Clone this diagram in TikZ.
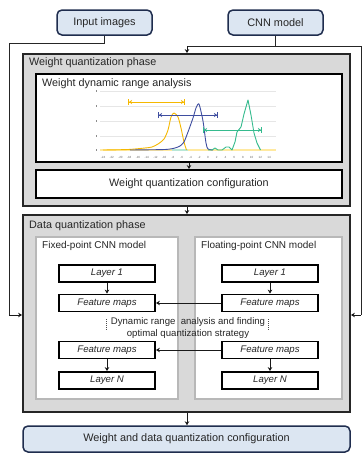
\documentclass[tikz,border=0pt]{standalone}
\usepackage{fontspec}
\setmainfont{Liberation Sans}
\usetikzlibrary{arrows.meta}
\definecolor{termfill}{HTML}{DCE6F2}
\definecolor{termdraw}{HTML}{1F2D4E}
\definecolor{phasefill}{HTML}{D9D9D9}
\definecolor{panelline}{HTML}{B8B8B8}
\definecolor{cyel}{HTML}{F5B800}
\definecolor{cyelbase}{HTML}{FFE9A0}
\definecolor{cblue}{HTML}{3F4EA0}
\definecolor{cgreen}{HTML}{35BB8E}
\definecolor{gridc}{HTML}{E6E6E6}
\definecolor{textc}{HTML}{262626}
\tikzset{
  termbox/.style={draw=termdraw, fill=termfill, line width=1.5pt, rounded corners=5pt,
    inner sep=0pt, text=textc, font=\fontsize{10.9}{12}\selectfont},
  phasebox/.style={draw=black!85, fill=phasefill, line width=1.8pt, inner sep=0pt},
  whitebox/.style={draw=black, fill=white, line width=1.8pt, inner sep=0pt,
    text=textc, font=\fontsize{10.8}{12}\selectfont},
  panelbox/.style={draw=panelline, fill=white, line width=1.7pt, inner sep=0pt},
  layerbox/.style={draw=black, fill=white, line width=1.8pt, inner sep=0pt,
    minimum width=96pt, minimum height=17pt, text=textc, font=\fontsize{9.6}{10}\selectfont\itshape},
  title/.style={anchor=west, inner sep=0pt, text=textc, font=\fontsize{10.8}{12}\selectfont},
  subtitle/.style={anchor=west, inner sep=0pt, text=textc, font=\fontsize{10}{11}\selectfont},
  conn/.style={draw=black!90, line width=1pt, -{Stealth[length=4pt,width=4.5pt]}},
  feed/.style={draw=black!85, line width=1pt},
  axlabel/.style={inner sep=0pt, text=black!60, font=\fontsize{3}{3}\selectfont},
  rangebar/.style={line width=1pt,
    {Bar[width=6pt]Stealth[length=3pt,width=4pt]}-{Stealth[length=3pt,width=4pt]Bar[width=6pt]}},
  curve/.style={line width=0.9pt, line join=round},
  dotmark/.style={draw=black!70, line width=1pt, dash pattern=on 1pt off 1pt},
}
\begin{document}
\begin{tikzpicture}[x=1pt,y=-1pt]
\useasboundingbox (0,0) rectangle (362,453);

% inputs
\node[termbox, minimum width=95pt, minimum height=25pt] (img) at (104.5,22.5) {Input images};
\node[termbox, minimum width=95pt, minimum height=25pt] (cnn) at (275.5,22.5) {CNN model};

% weight quantization phase
\node[phasebox, minimum width=327pt, minimum height=152pt] (wqp) at (186.5,130) {};
\node[title] (wqpt) at (29,63) {Weight quantization phase};
\node[whitebox, minimum width=306pt, minimum height=88pt] (wdra) at (189,118) {};
\node[title] (wdrat) at (42,84) {Weight dynamic range analysis};
\node[whitebox, minimum width=306pt, minimum height=28pt] (wqc) at (189,184) {Weight quantization configuration};

% chart: grid and baseline
\foreach \gy in {91,106,121,136}
  \draw[gridc, line width=0.6pt] (100,\gy) -- (276,\gy);
\foreach \gy in {91,106,121,136,150}
  \draw[black!45, line width=0.4pt] (96.5,\gy-1) -- (96.5,\gy+1);
\draw[cyelbase, line width=2.5pt] (100,150) -- (276,150);
\draw[cgreen!35, line width=2pt] (172,150) -- (188,150);
\foreach \v [count=\i from 0] in {-24,-22,-20,-18,-16,-14,-12,-10,-8,-6,-4,-2,0,2,4,6,8,10,12,14}
  \node[axlabel] (ax\i) at (103+\i*8.74,157) {\v};

% chart: distributions
\draw[cyel, curve] plot[smooth, tension=0.45] coordinates {(103,150) (128,149.5) (145,148) (152,147) (158,144) (164,139) (168,130) (171,117) (174,113) (178,117) (181,128) (184,142) (186.5,150)};
\draw[cblue, curve] plot[smooth, tension=0.4] coordinates {(130,150) (165,149.5) (175,148) (180,146) (184,142) (188,132) (193,118) (196,108) (199,104) (203,121) (206,143) (208,149) (213,150)};
\draw[cgreen, curve] (208,150) -- (212,150) -- (215,148) -- (218,150) -- (222,150) -- (226,147) -- (229,147) -- (232,150) -- (235,142) -- (237,132) -- (241,127) -- (244,114) -- (248,100) -- (251,115) -- (254,133) -- (257,143) -- (260.5,150);

% chart: ranges
\draw[cyel, rangebar] (128,102) -- (185,102);
\draw[cblue, rangebar] (158,115) -- (218,115);
\draw[cgreen, rangebar] (203,130) -- (262,130);

% data quantization phase
\node[phasebox, minimum width=327pt, minimum height=197pt] (dqp) at (186.5,313.5) {};
\node[title] (dqpt) at (29,226) {Data quantization phase};
\node[panelbox, minimum width=142pt, minimum height=162pt] (lpan) at (107,318) {};
\node[panelbox, minimum width=147pt, minimum height=162pt] (rpan) at (268.5,318) {};
\node[subtitle] (lpant) at (42,246) {Fixed-point CNN model};
\node[subtitle] (rpant) at (201,246) {Floating-point CNN model};

\node[layerbox] (l1a) at (107,273.5) {Layer 1};
\node[layerbox] (f1a) at (107,303) {Feature maps};
\node[layerbox] (f2a) at (107,350) {Feature maps};
\node[layerbox] (lna) at (107,380.5) {Layer N};
\node[layerbox] (l1b) at (270,273.5) {Layer 1};
\node[layerbox] (f1b) at (270,303) {Feature maps};
\node[layerbox] (f2b) at (270,350) {Feature maps};
\node[layerbox] (lnb) at (270,380.5) {Layer N};

\node[inner sep=0pt, align=center, text=textc, font=\fontsize{9.6}{12.5}\selectfont] (dra) at (188,328)
  {Dynamic range\ \ analysis and finding\\optimal quantization strategy};
\coordinate (dla) at (106.5,319);
\coordinate (dlb) at (106.5,330);
\coordinate (dra1) at (268.5,319);
\coordinate (dra2) at (268.5,330);
\draw[dotmark] (dla) -- (dlb);
\draw[dotmark] (dra1) -- (dra2);

\draw[conn] (l1a) -- (f1a);
\draw[conn] (l1b) -- (f1b);
\draw[conn] (f2a) -- (lna);
\draw[conn] (f2b) -- (lnb);
\draw[conn] (f1b) -- (f1a);
\draw[conn] (f2b) -- (f2a);

% output
\node[termbox, minimum width=327pt, minimum height=26pt] (out) at (186.5,439) {Weight and data quantization configuration};

% phase connectors
\draw[conn] (wdra) -- (wqc);
\draw[conn] (wqp.south -| 187,0) -- (dqp.north -| 187,0);
\draw[conn] (dqp.south -| 187,0) -- (out.north -| 187,0);

% feeds from the inputs
\coordinate (ia) at (104.5,43);
\coordinate (ib) at (9,43);
\coordinate (ic) at (9,315);
\draw[feed] (img.south) -- (ia) -- (ib) -- (ic);
\draw[conn] (ic) -- (dqp.west |- ic);
\coordinate (ca) at (275.5,46);
\coordinate (cb) at (187,46);
\coordinate (cc) at (361,46);
\coordinate (cd) at (361,315);
\draw[feed] (cnn.south) -- (ca);
\draw[feed] (cb) -- (cc) -- (cd);
\draw[conn] (cb) -- (wqp.north -| cb);
\draw[conn] (cd) -- (dqp.east |- cd);
\end{tikzpicture}
\end{document}
